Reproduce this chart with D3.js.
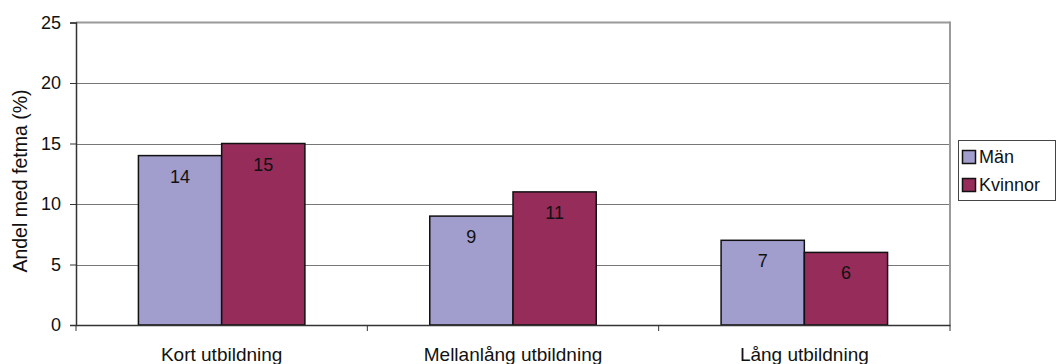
<!DOCTYPE html>
<html>
<head>
<meta charset="utf-8">
<script src="https://cdn.jsdelivr.net/npm/d3@7"></script>
<style>
  html, body { margin: 0; padding: 0; background: #fff; }
  svg { display: block; font-family: "Liberation Sans", Arial, sans-serif; }
</style>
</head>
<body>
<svg id="chart" width="1056" height="364"></svg>
<script>
// Andel med fetma per utbildningsnivå och kön
const categories = ["Kort utbildning", "Mellanlång utbildning", "Lång utbildning"];
const seriesNames = ["Män", "Kvinnor"];
const manValues = [14, 9, 7];
const kvinnorValues = [15, 11, 6];
const yTicks = [0, 5, 10, 15, 20, 25];
const yTitle = "Andel med fetma (%)";

const colors = ["#A19DCD", "#952C5A"];
const seriesValues = [manValues, kvinnorValues];
const FONT = "Liberation Sans, Arial, sans-serif";

const svg = d3.select("#chart");
const plot = { left: 76, right: 950, top: 22.5, bottom: 325 };

const x = d3.scaleBand().domain(categories).range([plot.left, plot.right]);
// Gap between groups is 1.5 times a bar width
const barW = x.bandwidth() / 3.5;
const xs = d3.scaleBand().domain(seriesNames)
  .range([barW * 0.75, barW * 2.75]);
const y = d3.scaleLinear().domain([0, 25]).range([plot.bottom, plot.top]);

// Horizontal gridlines
svg.append("g").selectAll("line").data(yTicks.filter(d => d > 0 && d < 25)).join("line")
  .attr("x1", plot.left).attr("x2", plot.right)
  .attr("y1", d => Math.round(y(d)) + 0.5).attr("y2", d => Math.round(y(d)) + 0.5)
  .attr("stroke", "#777").attr("stroke-width", 1);

// Plot frame: top and right in grey
svg.append("line").attr("x1", plot.left).attr("x2", plot.right)
  .attr("y1", y(25)).attr("y2", y(25)).attr("stroke", "#9a9a9a").attr("stroke-width", 2);
svg.append("line").attr("x1", plot.right).attr("x2", plot.right)
  .attr("y1", plot.top - 1).attr("y2", plot.bottom).attr("stroke", "#9a9a9a").attr("stroke-width", 2);

// Bars
const groups = svg.append("g").selectAll("g").data(categories).join("g")
  .attr("transform", d => `translate(${x(d)},0)`);
const cells = (c, i) => seriesNames.map((s, j) => ({ s, j, v: seriesValues[j][i] }));
groups.selectAll("rect").data(cells)
  .join("rect")
  .attr("x", d => xs(d.s))
  .attr("width", xs.bandwidth())
  .attr("y", d => y(d.v))
  .attr("height", d => y(0) - y(d.v))
  .attr("fill", d => colors[d.j])
  .attr("stroke", "#111").attr("stroke-width", 1.5);

// Value labels inside bars
groups.selectAll("text").data(cells)
  .join("text")
  .attr("x", d => xs(d.s) + xs.bandwidth() / 2)
  .attr("y", d => y(d.v) + 27)
  .attr("text-anchor", "middle")
  .attr("font-size", 18).attr("fill", "#111")
  .text(d => d.v);

// Y axis
const yAxis = d3.axisLeft(y).tickValues(yTicks).tickSize(6).tickPadding(9);
const gy = svg.append("g").attr("transform", `translate(${plot.left},0)`).call(yAxis);
gy.select(".domain").attr("stroke", "#333").attr("stroke-width", 1.5);
gy.selectAll(".tick line").attr("stroke", "#333");
gy.selectAll(".tick text").attr("font-size", 18).attr("fill", "#111")
  .attr("font-family", FONT);

// X axis
const xAxis = d3.axisBottom(x).tickSize(0);
const gx = svg.append("g").attr("transform", `translate(0,${plot.bottom})`).call(xAxis);
gx.select(".domain").attr("stroke", "#333").attr("stroke-width", 1.5);
gx.selectAll(".tick text").attr("font-size", 19).attr("fill", "#111")
  .attr("font-family", FONT).attr("y", 36).attr("dy", 0);
// Tick marks between categories
gx.selectAll(".sep").data(d3.range(categories.length + 1)).join("line")
  .attr("class", "sep")
  .attr("x1", i => plot.left + i * x.step()).attr("x2", i => plot.left + i * x.step())
  .attr("y1", 0).attr("y2", 6).attr("stroke", "#333");

// Y axis title
svg.append("text")
  .attr("transform", `translate(20.5,181) rotate(-90)`)
  .attr("text-anchor", "middle").attr("dy", "0.35em")
  .attr("font-size", 19.5).attr("fill", "#111")
  .text(yTitle);

// Legend
const lg = svg.append("g").attr("transform", "translate(958,140)");
lg.append("rect").attr("x", 0.5).attr("y", 0.5).attr("width", 97).attr("height", 60)
  .attr("fill", "#fff").attr("stroke", "#444").attr("stroke-width", 1);
const items = lg.selectAll("g").data(seriesNames).join("g")
  .attr("transform", (d, i) => `translate(0,${17 + i * 28})`);
items.append("rect").attr("x", 4.5).attr("y", -6.5).attr("width", 13).attr("height", 13)
  .attr("fill", (d, i) => colors[i]).attr("stroke", "#111").attr("stroke-width", 1.5);
items.append("text").attr("x", 21).attr("y", 0).attr("dy", "0.35em")
  .attr("font-size", 18).attr("fill", "#111").text(d => d);
</script>
</body>
</html>
